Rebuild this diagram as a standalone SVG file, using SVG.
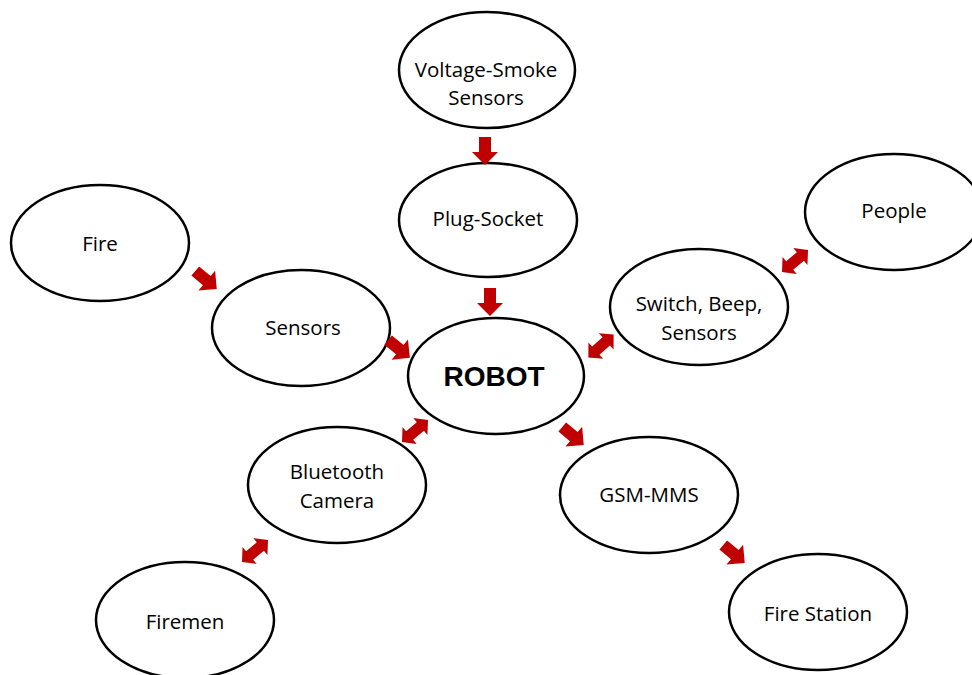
<svg xmlns="http://www.w3.org/2000/svg" xmlns:xlink="http://www.w3.org/1999/xlink" width="972" height="675" viewBox="0 0 972 675">
  <style>
    .node ellipse { fill: #ffffff; stroke: #000000; stroke-width: 2.5; }
    .node text { font-family: "Open Sans", "Liberation Sans", Arial, sans-serif; font-size: 20.5px; fill: #000000; text-anchor: middle; }
    .node text.big { font-family: "Liberation Sans", Arial, sans-serif; font-size: 28px; font-weight: bold; }
    .arrow { fill: #c00000; }
  </style>
  <defs>
    <!-- single block arrow pointing along +x, centred on the origin -->
    <polygon id="one" points="-14,-6 1,-6 1,-13 14,0 1,13 1,6 -14,6"/>
    <!-- double-headed block arrow along the x axis -->
    <polygon id="two" points="-17,0 -7,-11 -7,-5.5 7,-5.5 7,-11 17,0 7,11 7,5.5 -7,5.5 -7,11"/>
  </defs>
  <rect width="972" height="675" fill="#ffffff"/>

  <g id="n-voltage" class="node">
    <ellipse cx="487" cy="70" rx="88" ry="58"/>
    <text x="486" y="77">Voltage-Smoke</text>
    <text x="486" y="105">Sensors</text>
  </g>
  <g id="n-plug" class="node">
    <ellipse cx="488" cy="220" rx="89" ry="57"/>
    <text x="488" y="226">Plug-Socket</text>
  </g>
  <g id="n-fire" class="node">
    <ellipse cx="100" cy="243" rx="89" ry="58"/>
    <text x="100" y="251">Fire</text>
  </g>
  <g id="n-sensors" class="node">
    <ellipse cx="301" cy="328" rx="89" ry="58"/>
    <text x="303" y="335">Sensors</text>
  </g>
  <g id="n-robot" class="node">
    <ellipse cx="496" cy="376" rx="88" ry="58"/>
    <text class="big" x="494" y="386">ROBOT</text>
  </g>
  <g id="n-switch" class="node">
    <ellipse cx="699" cy="307" rx="89" ry="58"/>
    <text x="699" y="311">Switch, Beep,</text>
    <text x="699" y="340">Sensors</text>
  </g>
  <g id="n-people" class="node">
    <ellipse cx="894" cy="212" rx="89" ry="58"/>
    <text x="894" y="218">People</text>
  </g>
  <g id="n-bluetooth" class="node">
    <ellipse cx="337" cy="485" rx="89" ry="58"/>
    <text x="337" y="479">Bluetooth</text>
    <text x="337" y="508">Camera</text>
  </g>
  <g id="n-gsm" class="node">
    <ellipse cx="649" cy="495" rx="89" ry="58"/>
    <text x="649" y="502">GSM-MMS</text>
  </g>
  <g id="n-firemen" class="node">
    <ellipse cx="185" cy="620" rx="89" ry="58"/>
    <text x="185" y="629">Firemen</text>
  </g>
  <g id="n-station" class="node">
    <ellipse cx="818" cy="612" rx="89" ry="58"/>
    <text x="818" y="621">Fire Station</text>
  </g>

  <g id="connectors" class="arrow">
    <use xlink:href="#one" transform="translate(485,151) rotate(90)"/>
    <use xlink:href="#one" transform="translate(490,302) rotate(90)"/>
    <use xlink:href="#one" transform="translate(206,280) rotate(40)"/>
    <use xlink:href="#one" transform="translate(399,349) rotate(39)"/>
    <use xlink:href="#two" transform="translate(601,346) rotate(-42)"/>
    <use xlink:href="#two" transform="translate(415,431) rotate(-40)"/>
    <use xlink:href="#two" transform="translate(255,551) rotate(-40)"/>
    <use xlink:href="#two" transform="translate(795,261) rotate(-40)"/>
    <use xlink:href="#one" transform="translate(573,436) rotate(40)"/>
    <use xlink:href="#one" transform="translate(734,554) rotate(40)"/>
  </g>
</svg>
